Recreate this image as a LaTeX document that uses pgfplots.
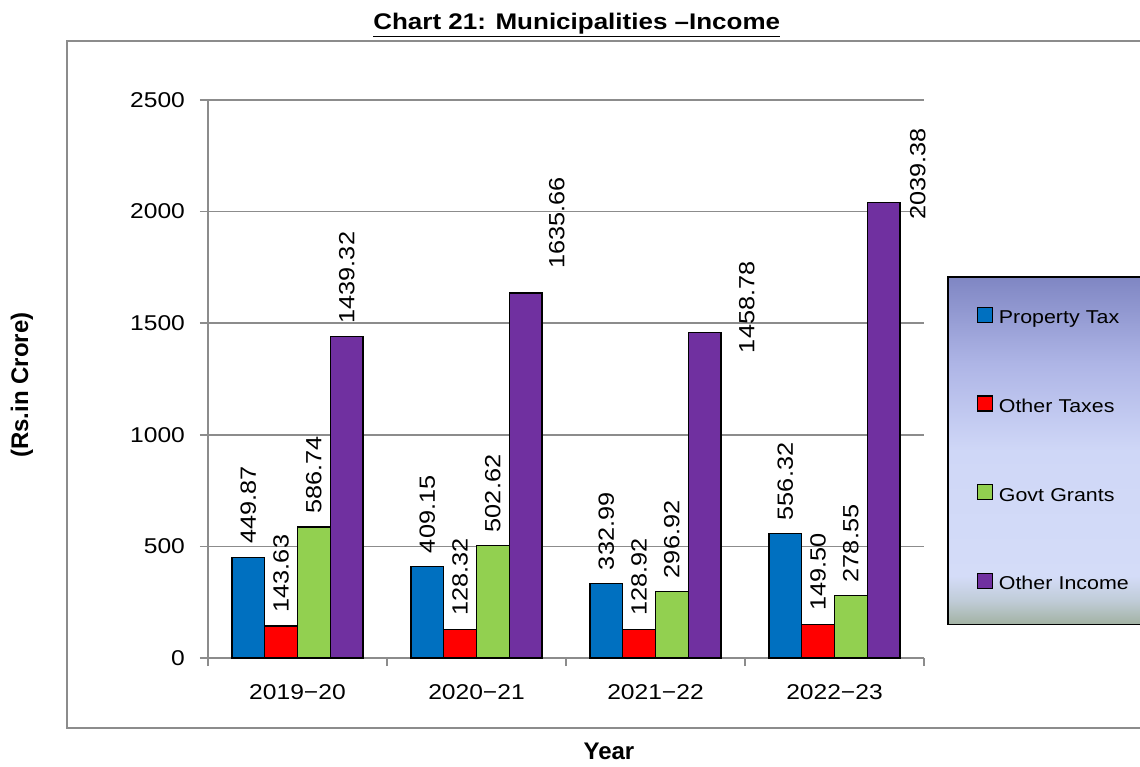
\documentclass[border=0pt]{standalone}
\usepackage{pgfplots}
\pgfplotsset{compat=1.18}
\usepackage{fontspec}
\setmainfont{Liberation Sans}
\newfontfamily\wide{Liberation Sans}[FakeStretch=1.15]
\definecolor{pblue}{HTML}{0070C0}
\definecolor{pred}{HTML}{FF0000}
\definecolor{pgreen}{HTML}{92D050}
\definecolor{ppurple}{HTML}{7030A0}
\definecolor{gridgray}{HTML}{8C8C8C}
\definecolor{lg0}{HTML}{A2B2A2}
\definecolor{lg1}{HTML}{C0CCD8}
\definecolor{lg2}{HTML}{D4DCF8}
\definecolor{lg3}{HTML}{CFD7F7}
\definecolor{lg4}{HTML}{AEB5E6}
\definecolor{lg5}{HTML}{7F86C3}
\pgfdeclareverticalshading{legendshade}{100bp}{color(0bp)=(lg0); color(25bp)=(lg0); color(28.5bp)=(lg1); color(32bp)=(lg2); color(50bp)=(lg3); color(62.5bp)=(lg4); color(75bp)=(lg5); color(100bp)=(lg5)}
\pgfplotsset{
  sq/.style={legend image code/.code={\draw[##1,draw=black,line width=0.6pt] (0pt,-1.5pt) rectangle (7.5pt,6pt);}},
  barlbl/.style={nodes near coords={\pgfmathprintnumber[fixed,fixed zerofill,precision=2]{\pgfplotspointmeta}},
    every node near coord/.append style={#1, rotate=90, anchor=west, font=\wide\fontsize{11}{13}\selectfont, inner xsep=6.5pt, inner ysep=0pt, text=black}},
  barlbl/.default={},
}
\begin{document}
\begin{tikzpicture}
\useasboundingbox (-104pt,-54pt) rectangle (466pt,329pt);
\draw[gridgray, line width=0.8pt] (480pt,308.5pt) -- (-70.5pt,308.5pt) -- (-70.5pt,-35pt) -- (480pt,-35pt);
\begin{axis}[
  at={(0,0)}, anchor=south west,
  scale only axis, width=358pt, height=279pt,
  xmin=-0.5, xmax=3.5, ymin=0, ymax=2500,
  xtick={-0.5,0.5,1.5,2.5,3.5},
  x tick label as interval,
  xticklabels={2019−20,2020−21,2021−22,2022−23},
  ytick={0,500,1000,1500,2000,2500},
  axis x line*=bottom, axis y line*=left,
  axis line style={-, gridgray, line width=0.8pt},
  tick style={gridgray, line width=0.8pt},
  tick align=outside, major tick length=4pt,
  ymajorgrids, grid style={gridgray, line width=0.8pt},
  /pgf/number format/1000 sep={},
  /pgf/number format/assume math mode=true,
  tick label style={font=\wide\fontsize{10.7}{12}\selectfont},
  xticklabel style={yshift=-5.5pt},
  yticklabel style={xshift=-4pt},
  title={\underline{Chart 21: Municipalities –Income}},
  title style={at={(axis description cs:0.515,1.112)}, anchor=center, font=\wide\bfseries\fontsize{11.3}{13}\selectfont},
  xlabel={Year},
  xlabel style={at={(axis description cs:0.56,-0.168)}, anchor=center, font=\bfseries\fontsize{12}{14}\selectfont},
  ylabel={(Rs.in Crore)},
  ylabel style={at={(axis description cs:-0.26,0.489)}, anchor=center, font=\bfseries\fontsize{12}{14}\selectfont},
  legend cell align=left,
  legend style={at={(axis description cs:1.032,0.6846)}, anchor=north west,
    draw=black, line width=0.8pt, shade, shading=legendshade,
    inner xsep=14.5pt, inner ysep=15pt, row sep=33.25pt,
    font=\wide\fontsize{9.3}{11}\selectfont,
    nodes={inner xsep=3pt, inner ysep=0pt, text height=7pt, text depth=2.5pt, text width=80pt}},
]
\addplot[ybar, bar width=16.4pt, bar shift=-24.6pt, fill=pblue, draw=black, line width=0.65pt, barlbl={xshift=-24.6pt}, sq]
  coordinates {(0,449.87) (1,409.15) (2,332.99) (3,556.32)};
\addlegendentry{Property Tax}
\addplot[ybar, bar width=16.4pt, bar shift=-8.2pt, fill=pred, draw=black, line width=0.65pt, barlbl={xshift=-8.2pt}, sq]
  coordinates {(0,143.63) (1,128.32) (2,128.92) (3,149.50)};
\addlegendentry{Other Taxes}
\addplot[ybar, bar width=16.4pt, bar shift=8.2pt, fill=pgreen, draw=black, line width=0.65pt, barlbl={xshift=8.2pt}, sq]
  coordinates {(0,586.74) (1,502.62) (2,296.92) (3,278.55)};
\addlegendentry{Govt Grants}
\addplot[ybar, bar width=16.4pt, bar shift=24.6pt, fill=ppurple, draw=black, line width=0.65pt, sq]
  coordinates {(0,1439.32) (1,1635.66) (2,1458.78) (3,2039.38)};
\addlegendentry{Other Income}
\addplot[ybar, forget plot, bar width=16.4pt, bar shift=24.6pt, draw=none, fill=none, barlbl={xshift=24.6pt}]
  coordinates {(0,1439.32)};
\addplot[ybar, forget plot, bar width=16.4pt, bar shift=24.6pt, draw=none, fill=none, barlbl={xshift=40.1pt,yshift=5.5pt}]
  coordinates {(1,1635.66)};
\addplot[ybar, forget plot, bar width=16.4pt, bar shift=24.6pt, draw=none, fill=none, barlbl={xshift=45.6pt,yshift=-17pt}]
  coordinates {(2,1458.78)};
\addplot[ybar, forget plot, bar width=16.4pt, bar shift=24.6pt, draw=none, fill=none, barlbl={xshift=41.6pt,yshift=-15pt}]
  coordinates {(3,2039.38)};
\end{axis}
\end{tikzpicture}
\end{document}
